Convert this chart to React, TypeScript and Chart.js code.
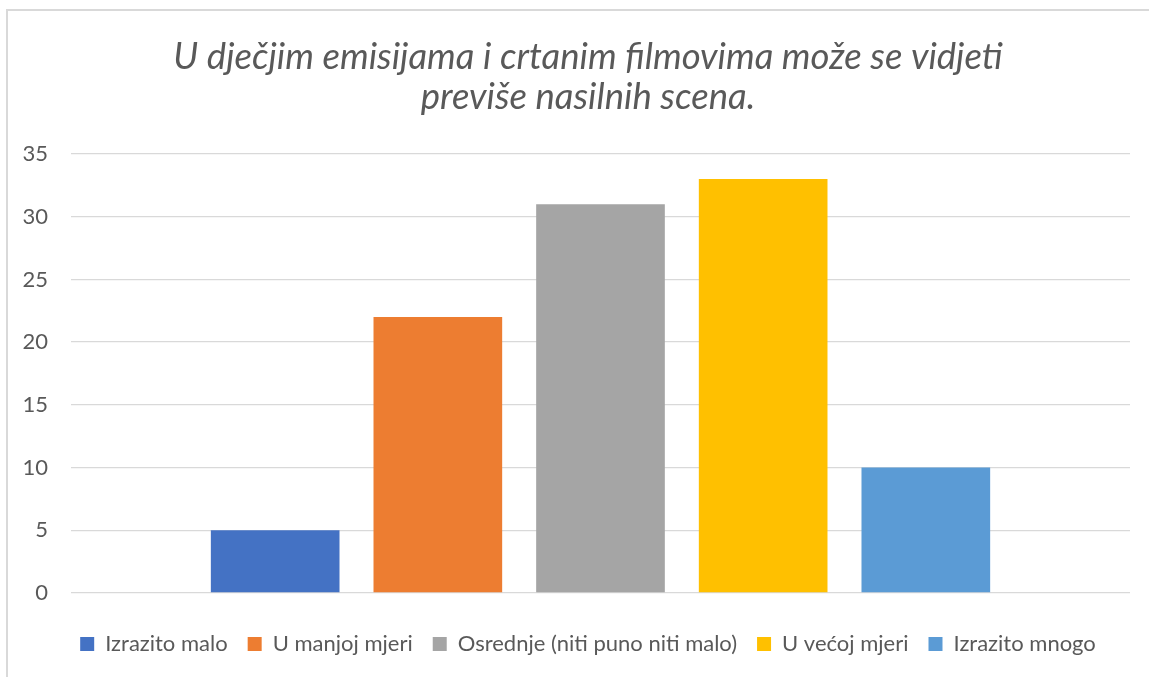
import React, { useEffect, useRef } from "react";
import { Chart, registerables } from "chart.js";

Chart.register(...registerables);

const titleLines = ["U dječjim emisijama i crtanim filmovima može se vidjeti", "previše nasilnih scena."];
const categories = [""];
const seriesNames = ["Izrazito malo", "U manjoj mjeri", "Osrednje (niti puno niti malo)", "U većoj mjeri", "Izrazito mnogo"];
const seriesValues = [5, 22, 31, 33, 10];
const seriesColors = ["#4472C4", "#ED7D31", "#A5A5A5", "#FFC000", "#5B9BD5"];
const yTicks = [0, 5, 10, 15, 20, 25, 30, 35];

const FONT = "Lato, 'Open Sans', sans-serif";

export default function App() {
  const ref = useRef<HTMLCanvasElement | null>(null);

  useEffect(() => {
    document.body.style.overflow = "hidden";
    if (!ref.current) return;
    const chart = new Chart(ref.current, {
      type: "bar",
      data: {
        labels: categories,
        datasets: seriesNames.map((name, i) => ({
          label: name,
          data: [seriesValues[i]],
          backgroundColor: seriesColors[i],
          borderWidth: 0,
          categoryPercentage: 0.768,
          barPercentage: 0.791,
        })),
      },
      options: {
        animation: false,
        responsive: false,
        maintainAspectRatio: false,
        layout: { padding: { top: 0, left: 0, right: 0, bottom: 12 } },
        plugins: {
          title: {
            display: true,
            text: titleLines,
            color: "#595959",
            font: { family: FONT, size: 36.5, style: "italic", weight: "normal", lineHeight: "40px" },
            padding: { top: 26, bottom: 37 },
          },
          legend: {
            display: true,
            position: "bottom",
            labels: {
              color: "#595959",
              font: { family: FONT, size: 22 },
              boxWidth: 14,
              boxHeight: 14,
              padding: 20,
            },
          },
          tooltip: { enabled: false },
        },
        scales: {
          x: {
            grid: { display: false },
            border: { display: false },
            ticks: { display: false },
            afterFit: (scale: any) => {
              scale.height = 20;
            },
          },
          y: {
            min: 0,
            max: 35,
            afterBuildTicks: (scale: any) => {
              scale.ticks = yTicks.map((v) => ({ value: v }));
            },
            grid: { color: "#d9d9d9", lineWidth: 1.3, drawTicks: false },
            border: { display: false },
            ticks: {
              color: "#595959",
              font: { family: FONT, size: 22 },
              padding: 23,
            },
            afterFit: (scale: any) => {
              scale.width = 63;
            },
          },
          ySpacer: {
            position: "right",
            min: 0,
            max: 35,
            grid: { display: false, drawTicks: false },
            border: { display: false },
            ticks: { display: false },
            afterFit: (scale: any) => {
              scale.width = 38;
            },
          },
        },
      },
    });
    return () => chart.destroy();
  }, []);

  return (
    <div
      style={{
        position: "absolute",
        left: 6,
        top: 9,
        width: 1143,
        height: 668,
        boxSizing: "border-box",
        borderTop: "2px solid #d9d9d9",
        borderLeft: "2px solid #d9d9d9",
        background: "#fff",
        overflow: "hidden",
      }}
    >
      <canvas ref={ref} width={1160} height={666} style={{ display: "block" }} />
    </div>
  );
}
